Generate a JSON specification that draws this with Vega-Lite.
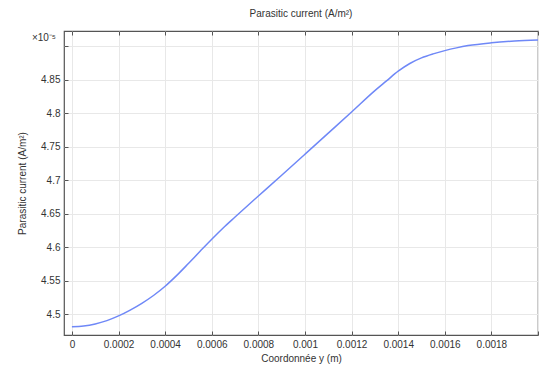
{
  "$schema": "https://vega.github.io/schema/vega-lite/v6.json",
  "width": 474,
  "height": 304,
  "autosize": "none",
  "padding": {"left": 64, "top": 31, "right": 2, "bottom": 34},
  "background": "white",
  "config": {
    "font": "Liberation Sans",
    "view": {"stroke": "#555", "strokeWidth": 1.2},
    "axis": {
      "labelFont": "Liberation Sans",
      "titleFont": "Liberation Sans",
      "labelFontSize": 10,
      "titleFontSize": 10,
      "titleFontWeight": "normal",
      "labelColor": "#333",
      "titleColor": "#333",
      "gridColor": "#e8e8e8",
      "gridWidth": 1,
      "tickColor": "#555",
      "domain": false
    }
  },
  "title": {
    "text": "Parasitic current  (A/m²)",
    "fontSize": 10,
    "fontWeight": "normal",
    "color": "#333",
    "font": "Liberation Sans",
    "offset": 12
  },
  "data": {
    "values": [
      {"y": 0.0, "j": 4.4815},
      {"y": 0.00005, "j": 4.4825},
      {"y": 0.0001, "j": 4.4855},
      {"y": 0.00015, "j": 4.4905},
      {"y": 0.0002, "j": 4.4975},
      {"y": 0.00025, "j": 4.5062},
      {"y": 0.0003, "j": 4.5163},
      {"y": 0.00035, "j": 4.528},
      {"y": 0.0004, "j": 4.5418},
      {"y": 0.00045, "j": 4.558},
      {"y": 0.0005, "j": 4.5758},
      {"y": 0.00055, "j": 4.594},
      {"y": 0.0006, "j": 4.612},
      {"y": 0.00065, "j": 4.6292},
      {"y": 0.0007, "j": 4.6452},
      {"y": 0.00075, "j": 4.661},
      {"y": 0.0008, "j": 4.6765},
      {"y": 0.0009, "j": 4.7075},
      {"y": 0.001, "j": 4.739},
      {"y": 0.0011, "j": 4.7705},
      {"y": 0.0012, "j": 4.802},
      {"y": 0.0013, "j": 4.834},
      {"y": 0.00135, "j": 4.8485},
      {"y": 0.0014, "j": 4.863},
      {"y": 0.00145, "j": 4.8745},
      {"y": 0.0015, "j": 4.8828},
      {"y": 0.00155, "j": 4.8888},
      {"y": 0.0016, "j": 4.8937},
      {"y": 0.00165, "j": 4.8978},
      {"y": 0.0017, "j": 4.9012},
      {"y": 0.0018, "j": 4.9054},
      {"y": 0.0019, "j": 4.908},
      {"y": 0.002, "j": 4.9095}
    ]
  },
  "layer": [
    {
      "mark": {"type": "line", "color": "#6f88f7", "strokeWidth": 1.5, "interpolate": "monotone", "clip": true},
      "encoding": {
        "x": {
          "field": "y", "type": "quantitative",
          "scale": {"domain": [-0.000034, 0.002], "nice": false, "zero": false},
          "axis": {
            "orient": "bottom",
            "title": "Coordonnée y (m)",
            "values": [0, 0.0002, 0.0004, 0.0006, 0.0008, 0.001, 0.0012, 0.0014, 0.0016, 0.0018, 0.002],
            "labelExpr": "datum.value > 0.0019 ? '' : format(datum.value, '~g')",
            "tickSize": -4,
            "labelPadding": 8,
            "titlePadding": 4,
            "titleColor": "#333",
            "grid": true
          }
        },
        "y": {
          "field": "j", "type": "quantitative",
          "scale": {"domain": [4.469, 4.923], "nice": false, "zero": false},
          "axis": {
            "title": "Parasitic current (A/m²)",
            "values": [4.5, 4.55, 4.6, 4.65, 4.7, 4.75, 4.8, 4.85, 4.9],
            "labelExpr": "datum.value > 4.89 ? '' : format(datum.value, '~g')",
            "tickSize": -4,
            "labelPadding": 8,
            "titlePadding": 13,
            "titleColor": "#333",
            "grid": true
          }
        }
      }
    },
    {
      "mark": {"type": "tick", "opacity": 0},
      "encoding": {
        "x": {
          "field": "y", "type": "quantitative",
          "axis": {
            "orient": "top",
            "title": null,
            "labels": false,
            "grid": false,
            "values": [0, 0.0002, 0.0004, 0.0006, 0.0008, 0.001, 0.0012, 0.0014, 0.0016, 0.0018, 0.002],
            "tickSize": -4
          }
        }
      }
    },
    {
      "data": {"values": [{"lbl": "×10⁻⁵"}]},
      "mark": {"type": "text", "align": "right", "baseline": "middle", "dx": -8, "fontSize": 10, "color": "#333", "font": "Liberation Sans", "clip": false},
      "encoding": {
        "x": {"datum": -0.000034, "type": "quantitative", "axis": null},
        "y": {
          "datum": 4.913, "type": "quantitative",
          "axis": {
            "title": "Parasitic current (A/m²)",
            "values": [4.5, 4.55, 4.6, 4.65, 4.7, 4.75, 4.8, 4.85, 4.9],
            "labelExpr": "datum.value > 4.89 ? '' : format(datum.value, '~g')",
            "tickSize": -4,
            "labelPadding": 8,
            "titlePadding": 13,
            "titleColor": "#333",
            "grid": true
          }
        },
        "text": {"field": "lbl"}
      }
    }
  ],
  "resolve": {"axis": {"x": "independent"}}
}
